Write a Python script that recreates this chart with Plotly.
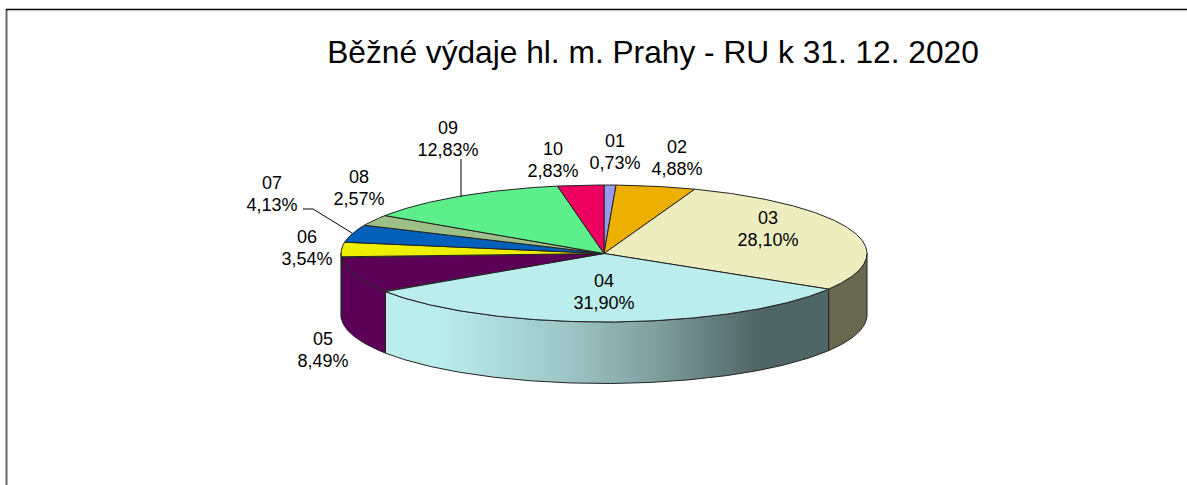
import math
import plotly.graph_objects as go

# ---------- data ----------
codes = ["01", "02", "03", "04", "05", "06", "07", "08", "09", "10"]
shares = [0.73, 4.88, 28.10, 31.90, 8.49, 3.54, 4.13, 2.57, 12.83, 2.83]
top_colors = ["#9999EE", "#EEB000", "#EDEDBF", "#BBEDED", "#5C0057",
              "#EEEE00", "#0060BB", "#9CC088", "#5CEF8C", "#EE0060"]
side_colors = ["#5C5C8F", "#8F6A00", "#686850", "#BBEDED", "#5C0057",
               "#EEEE00", "#003A70", "#5E7352", "#388F54", "#8F003A"]
title_text = "Běžné výdaje hl. m. Prahy - RU k 31. 12. 2020"

# ---------- layout of the drawing (page pixels) ----------
W, H = 1187, 485
CX, CY, RX, RY, DEPTH = 604, 253.5, 263, 68.5, 61.5
label_x = [615, 677, 768, 604, 323, 307, 272, 359, 448, 553]
label_y = [142, 148, 219, 282, 340, 238, 184, 178, 129, 150]
LINE_GAP = 22
EDGE = "#222222"
leaders = [([303, 313, 352], [209, 209, 233]), ([461, 461], [159, 197])]
gradient = [[0, "#BBEDED"], [0.12, "#BBEDED"], [0.42, "#9CC4C4"],
            [0.62, "#7E9C9C"], [0.84, "#4F6566"], [1, "#4F6566"]]


def pt(theta, drop=0):
    a = math.radians(theta)
    return CX + RX * math.sin(a), CY - RY * math.cos(a) + drop


def arc(a, b):
    n = max(2, int(abs(b - a) * 2) + 1)
    return [pt(a + (b - a) * i / (n - 1)) for i in range(n)]


fig = go.Figure()
bounds = []
run = 0.0
for s in shares:
    bounds.append((run * 3.6, (run + s) * 3.6))
    run += s

# side walls: only the front half of the disc (90..270 degrees) is visible
for (a, b), code, col in zip(bounds, codes, side_colors):
    lo, hi = max(a, 90), min(b, 270)
    if hi <= lo:
        continue
    upper = arc(lo, hi)
    lower = [(x, y + DEPTH) for x, y in reversed(upper)]
    ring = upper + lower + upper[:1]
    kw = dict(fillcolor=col)
    if code == "04":
        kw = dict(fillgradient=dict(type="horizontal", colorscale=gradient))
    fig.add_trace(go.Scatter(x=[p[0] for p in ring], y=[p[1] for p in ring],
                             mode="lines", fill="toself",
                             line=dict(color=EDGE, width=1),
                             hoverinfo="skip", showlegend=False, **kw))

# top faces
for (a, b), col in zip(bounds, top_colors):
    ring = [(CX, CY)] + arc(a, b) + [(CX, CY)]
    fig.add_trace(go.Scatter(x=[p[0] for p in ring], y=[p[1] for p in ring],
                             mode="lines", fill="toself", fillcolor=col,
                             line=dict(color=EDGE, width=1),
                             hoverinfo="skip", showlegend=False))

# leader lines
for lx, ly in leaders:
    fig.add_trace(go.Scatter(x=lx, y=ly, mode="lines",
                             line=dict(color="#000000", width=1),
                             hoverinfo="skip", showlegend=False))

# labels
pct = [f"{s:.2f}%".replace(".", ",") for s in shares]
font = dict(family="Liberation Sans, Arial, sans-serif", size=18, color="#000000")
fig.add_trace(go.Scatter(x=label_x, y=label_y, mode="text", text=codes,
                         textposition="middle center", textfont=font,
                         hoverinfo="skip", showlegend=False))
fig.add_trace(go.Scatter(x=label_x, y=[y + LINE_GAP for y in label_y], mode="text",
                         text=pct, textposition="middle center", textfont=font,
                         hoverinfo="skip", showlegend=False))

fig.update_layout(
    width=W, height=H, autosize=False,
    margin=dict(l=0, r=0, t=0, b=0),
    paper_bgcolor="#FFFFFF", plot_bgcolor="#FFFFFF",
    xaxis=dict(range=[0, W], visible=False, fixedrange=True),
    yaxis=dict(range=[H, 0], visible=False, fixedrange=True),
    title=dict(text=title_text, x=653 / W, xanchor="center", y=1 - 52 / H, yanchor="middle",
               font=dict(family="Liberation Sans, Arial, sans-serif", size=31.7, color="#000000")),
    shapes=[
        dict(type="line", x0=6.5, x1=6.5, y0=9, y1=H, line=dict(color="#666666", width=2)),
        dict(type="line", x0=6, x1=W, y0=9.5, y1=9.5, line=dict(color="#000000", width=1.5)),
        dict(type="line", x0=8, x1=W, y0=11, y1=11, line=dict(color="#DDDDDD", width=1)),
    ],
)

fig.write_html("out.html", config={"displayModeBar": False},
               post_script="document.body.style.margin='0';document.body.style.overflow='hidden';")
